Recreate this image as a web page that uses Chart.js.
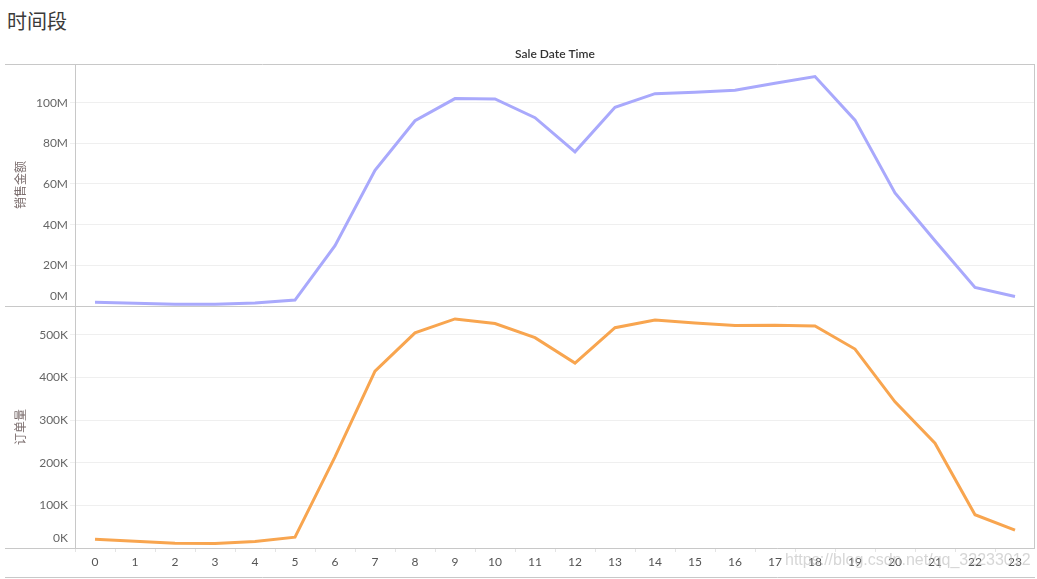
<!DOCTYPE html>
<html lang="zh">
<head>
<meta charset="UTF-8">
<title>时间段</title>
<script src="https://cdn.jsdelivr.net/npm/chart.js"></script>
<style>
    body { margin: 0; background: #fff; width: 1037px; height: 579px; overflow: hidden; position: relative; }
    #pageTitle { position: absolute; left: 7px; top: 6px; font: 20px "Noto Sans CJK SC", serif; color: #3a3a3a; }
    #chartBox { position: absolute; left: 5px; top: 40px; width: 1030px; height: 539px; }
    #watermark { position: absolute; left: 785px; top: 551px; font: 16px "Liberation Sans", Arial, sans-serif; color: rgba(180,180,180,0.55); pointer-events: none; }
</style>
</head>
<body>
<div id="pageTitle">时间段</div>
<div id="chartBox"><canvas id="timeChart"></canvas></div>
<div id="watermark">https://blog.csdn.net/qq_32233012</div>

<script>
    // heures de la journée
    const hours = ['0','1','2','3','4','5','6','7','8','9','10','11','12','13','14','15','16','17','18','19','20','21','22','23'];

    // 销售金额 (en millions)
    const salesMillions = [1.9, 1.4, 0.9, 0.9, 1.5, 2.9, 29.7, 66.7, 91.1, 102.0, 101.8, 92.6,
                           75.8, 97.7, 104.4, 105.1, 106.1, 109.5, 112.8, 91.4, 55.6, 32.1, 9.1, 4.7];

    // 订单量
    const orderCounts = [20700, 16000, 11300, 10500, 15300, 25400, 214000, 415000, 505000, 537600, 527000, 493600,
                         434000, 517000, 535000, 528000, 522000, 522600, 521000, 467000, 343000, 246000, 78000, 42000];

    // graduations des axes
    const salesTicksM = [0, 20, 40, 60, 80, 100];
    const orderTicksK = [0, 100, 200, 300, 400, 500];

    const headerText = 'Sale Date Time';
    const salesTitle = '销售金额';
    const ordersTitle = '订单量';

    const lineGrey = '#c8c8c8';

    // bordures des panneaux + en-tête
    const frame = {
        id: 'frame',
        afterDraw(chart) {
            const ctx = chart.ctx;
            const area = chart.chartArea;
            const split = chart.scales.ySales.bottom;
            const bottomY = chart.scales.x.bottom;
            ctx.save();
            ctx.strokeStyle = lineGrey;
            ctx.lineWidth = 1;
            ctx.beginPath();
            [area.top + 0.5, Math.round(split) + 0.5, area.bottom + 0.5, bottomY - 1.5].forEach(y => {
                ctx.moveTo(0, y);
                ctx.lineTo(area.right, y);
            });
            ctx.moveTo(area.left + 0.5, area.top);
            ctx.lineTo(area.left + 0.5, area.bottom);
            ctx.moveTo(area.right - 0.5, area.top);
            ctx.lineTo(area.right - 0.5, area.bottom);
            ctx.stroke();

            ctx.fillStyle = '#333';
            ctx.font = '600 12px Lato, "Open Sans", sans-serif';
            ctx.textAlign = 'center';
            ctx.textBaseline = 'middle';
            ctx.fillText(headerText, (area.left + area.right) / 2, area.top - 10);
            ctx.restore();
        }
    };

    const ctx = document.getElementById('timeChart').getContext('2d');

    Chart.defaults.font.family = 'Lato, "Open Sans", sans-serif';
    Chart.defaults.font.size = 12;
    Chart.defaults.color = '#666';

    const yBase = (title) => ({
        position: 'left',
        stack: 'panes',
        stackWeight: 1,
        border: { display: false },
        grid: { color: '#efefef', tickLength: 5, drawTicks: true, tickColor: '#efefef' },
        title: {
            display: true,
            text: title,
            color: '#7a6c6c',
            font: { family: '"Noto Sans CJK SC", sans-serif', size: 12 },
            padding: { top: 8, bottom: 0 }
        },
        afterFit(scale) { scale.width = 70; }
    });

    new Chart(ctx, {
        type: 'line',
        data: {
            labels: hours,
            datasets: [{
                label: ordersTitle,
                data: orderCounts,
                yAxisID: 'yOrders',
                borderColor: '#f8a54f',
                borderWidth: 3,
                pointRadius: 0,
                tension: 0
            }, {
                label: salesTitle,
                data: salesMillions.map(v => v * 1000000),
                yAxisID: 'ySales',
                borderColor: '#a9a9fc',
                borderWidth: 3,
                pointRadius: 0,
                tension: 0
            }]
        },
        options: {
            responsive: true,
            maintainAspectRatio: false,
            animation: false,
            layout: { padding: { top: 24, right: 0, left: 0, bottom: 0 } },
            plugins: {
                legend: { display: false },
                tooltip: { enabled: false }
            },
            scales: {
                x: {
                    type: 'category',
                    offset: true,
                    border: { display: false },
                    grid: { offset: true, drawOnChartArea: false, drawTicks: true, tickLength: 4, color: '#e4e4e4' },
                    ticks: { padding: 3, maxRotation: 0, autoSkip: false, color: '#555' },
                    afterFit(scale) { scale.height = 31; }
                },
                yOrders: Object.assign(yBase(ordersTitle), {
                    min: 0,
                    max: 568000,
                    afterBuildTicks(scale) { scale.ticks = orderTicksK.map(v => ({ value: v * 1000 })); },
                    ticks: {
                        autoSkip: false,
                        padding: 2,
                        font: { lineHeight: 1.6 },
                        callback: v => v === 0 ? ['0K', ''] : (v / 1000) + 'K'
                    }
                }),
                ySales: Object.assign(yBase(salesTitle), {
                    min: 0,
                    max: 119000000,
                    afterBuildTicks(scale) { scale.ticks = salesTicksM.map(v => ({ value: v * 1000000 })); },
                    ticks: {
                        autoSkip: false,
                        padding: 2,
                        font: { lineHeight: 1.6 },
                        callback: v => v === 0 ? ['0M', ''] : (v / 1000000) + 'M'
                    }
                })
            }
        },
        plugins: [frame]
    });
</script>
</body>
</html>
